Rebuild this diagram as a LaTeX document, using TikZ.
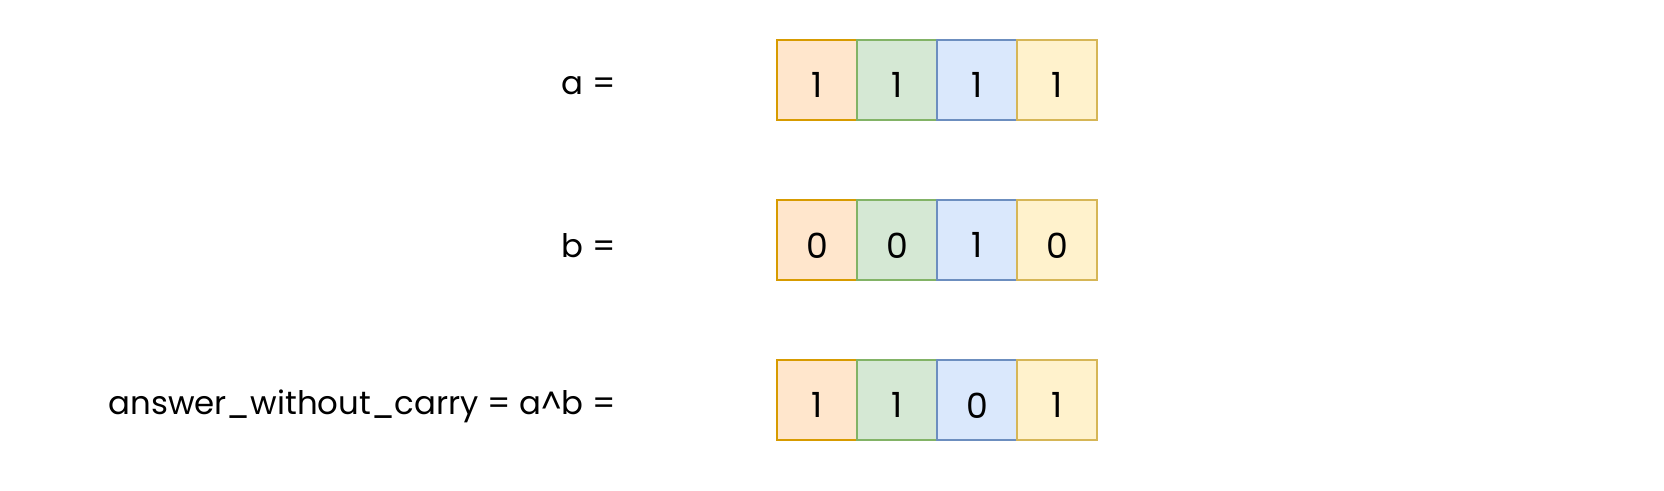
\documentclass[tikz,border=0pt]{standalone}
\usepackage{fontspec}
\setmainfont{Poppins}
\definecolor{orF}{HTML}{FFE6CC}\definecolor{orD}{HTML}{D79B00}
\definecolor{grF}{HTML}{D5E8D4}\definecolor{grD}{HTML}{82B366}
\definecolor{blF}{HTML}{DAE8FC}\definecolor{blD}{HTML}{6C8EBF}
\definecolor{yeF}{HTML}{FFF2CC}\definecolor{yeD}{HTML}{D6B656}
\tikzset{
  cell/.style={minimum width=80*0.75pt, minimum height=80*0.75pt, inner sep=0pt, line width=1.5pt, font=\fontsize{26}{30}\selectfont},
  c1/.style={cell, fill=orF, draw=orD},
  c2/.style={cell, fill=grF, draw=grD},
  c3/.style={cell, fill=blF, draw=blD},
  c4/.style={cell, fill=yeF, draw=yeD},
  lbl/.style={anchor=east, inner sep=0pt, font=\fontsize{24.3}{28}\selectfont},
  dig/.style={inner sep=0pt, font=\fontsize{26}{30}\selectfont},
}
\begin{document}
\begin{tikzpicture}[x=0.75pt,y=-0.75pt]
\useasboundingbox (0,0) rectangle (1664,490);
\foreach \r/\y/\name/\va/\vb/\vc/\vd in {1/80/a =/1/1/1/1, 2/240/b =/0/0/1/0, 3/400/answer\_without\_carry = a\textasciicircum b =/1/1/0/1} {
  \node[lbl] (l\r) at (616,\y+6) {\name};
  \node[c1] (r\r a) at (817,\y) {};
  \node[c2] (r\r b) at (897,\y) {};
  \node[c3] (r\r c) at (977,\y) {};
  \node[c4] (r\r d) at (1057,\y) {};
  \node[dig] (d\r a) at ([yshift=-4pt]r\r a.center) {\va};
  \node[dig] (d\r b) at ([yshift=-4pt]r\r b.center) {\vb};
  \node[dig] (d\r c) at ([yshift=-4pt]r\r c.center) {\vc};
  \node[dig] (d\r d) at ([yshift=-4pt]r\r d.center) {\vd};
}
\end{tikzpicture}
\end{document}
